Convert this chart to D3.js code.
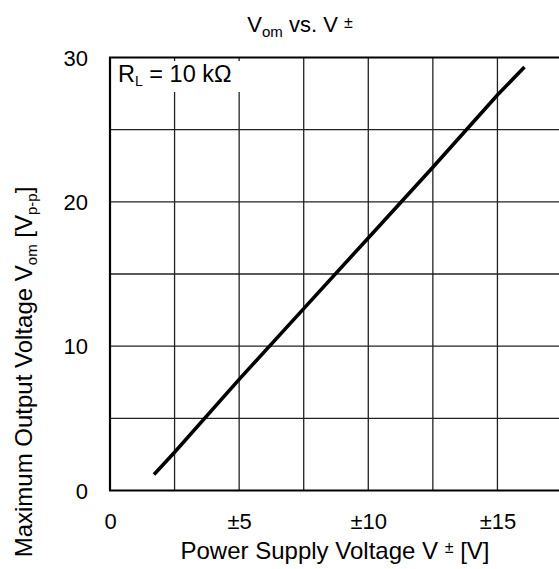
<!DOCTYPE html>
<html><head><meta charset="utf-8">
<script src="https://cdn.jsdelivr.net/npm/d3@7"></script>
<style>body{margin:0;background:#fff;} text{font-family:"Liberation Sans",Arial,sans-serif;fill:#000;}</style>
</head><body>
<svg id="c" width="559" height="569"></svg>
<script>
const supplyV = [1.75, 2.5, 5, 7.5, 10, 12.5, 15, 16];
const vom = [1.2, 2.65, 7.7, 12.6, 17.5, 22.4, 27.4, 29.25];
const xTicks = [0, 5, 10, 15];
const xTickLabels = ["0", "±5", "±10", "±15"];
const yTicks = [0, 10, 20, 30];
const xGrid = [2.5, 5, 7.5, 10, 12.5, 15];
const yGrid = [5, 10, 15, 20, 25];

const svg = d3.select("#c");
const L = 110, R = 562, T = 57.5, B = 490.5;
const x = d3.scaleLinear().domain([0, 17.5]).range([L, R]);
const y = d3.scaleLinear().domain([0, 30]).range([B, T]);

const g = svg.append("g");
g.selectAll(".vg").data(xGrid).join("line")
  .attr("x1", d => x(d)).attr("x2", d => x(d)).attr("y1", T).attr("y2", B)
  .attr("stroke", "#222").attr("stroke-width", 1.3);
g.selectAll(".hg").data(yGrid).join("line")
  .attr("x1", L).attr("x2", 559).attr("y1", d => y(d)).attr("y2", d => y(d))
  .attr("stroke", "#222").attr("stroke-width", 1.3);

// legend text with white background
const leg = svg.append("g");
leg.append("rect").attr("x", L + 1).attr("y", 61).attr("width", 133).attr("height", 31).attr("fill", "#fff");
const lt = leg.append("text").attr("x", 118).attr("y", 82).attr("font-size", 23.5);
lt.append("tspan").text("R");
lt.append("tspan").text("L").attr("font-size", 14).attr("dy", 4);
lt.append("tspan").text(" = 10 kΩ").attr("dy", -4);

// axes frame
svg.append("line").attr("x1", L).attr("x2", L).attr("y1", T).attr("y2", B).attr("stroke", "#000").attr("stroke-width", 2.2);
svg.append("line").attr("x1", L - 1).attr("x2", 559).attr("y1", B).attr("y2", B).attr("stroke", "#000").attr("stroke-width", 2.2);
svg.append("line").attr("x1", L - 1).attr("x2", 559).attr("y1", T).attr("y2", T).attr("stroke", "#000").attr("stroke-width", 2.2);

// tick labels via axes
const xAxis = d3.axisBottom(x).tickValues(xTicks).tickFormat((d, i) => xTickLabels[i]).tickSize(0).tickPadding(0);
const xa = svg.append("g").attr("transform", `translate(0,${B})`).call(xAxis);
xa.select(".domain").remove();
xa.selectAll("text").attr("font-size", 22).attr("dy", null).attr("y", 38).attr("font-family", null).attr("fill", "#000");

const yAxis = d3.axisLeft(y).tickValues(yTicks).tickSize(0).tickPadding(0);
const ya = svg.append("g").attr("transform", `translate(${L},0)`).call(yAxis);
ya.select(".domain").remove();
ya.selectAll("text").attr("font-size", 22).attr("x", -22).attr("dy", "0.35em").attr("font-family", null).attr("fill", "#000");

// data line
const line = d3.line().x(d => x(d[0])).y(d => y(d[1]));
svg.append("path").datum(supplyV.map((v, i) => [v, vom[i]]))
  .attr("d", line).attr("fill", "none").attr("stroke", "#000").attr("stroke-width", 3.6).attr("stroke-linecap", "square");

// title
const tt = svg.append("text").attr("x", 300).attr("y", 32).attr("text-anchor", "middle").attr("font-size", 22);
tt.append("tspan").text("V");
tt.append("tspan").text("om").attr("font-size", 15).attr("dy", 5);
tt.append("tspan").text(" vs. V ").attr("dy", -5);
tt.append("tspan").text("±").attr("font-size", 16).attr("dy", -4);

// x title
const xt = svg.append("text").attr("x", 335).attr("y", 559).attr("text-anchor", "middle").attr("font-size", 24);
xt.append("tspan").text("Power Supply Voltage V ");
xt.append("tspan").text("±").attr("font-size", 16).attr("dy", -6);
xt.append("tspan").text(" [V]").attr("dy", 6);

// y title
const yt = svg.append("text").attr("transform", "translate(32,372) rotate(-90)").attr("text-anchor", "middle").attr("font-size", 24);
yt.append("tspan").text("Maximum Output Voltage V");
yt.append("tspan").text("om").attr("font-size", 15).attr("dy", 5);
yt.append("tspan").text(" [V").attr("dy", -5);
yt.append("tspan").text("p-p").attr("font-size", 15).attr("dy", 5);
yt.append("tspan").text("]").attr("dy", -5);
</script>
</body></html>
